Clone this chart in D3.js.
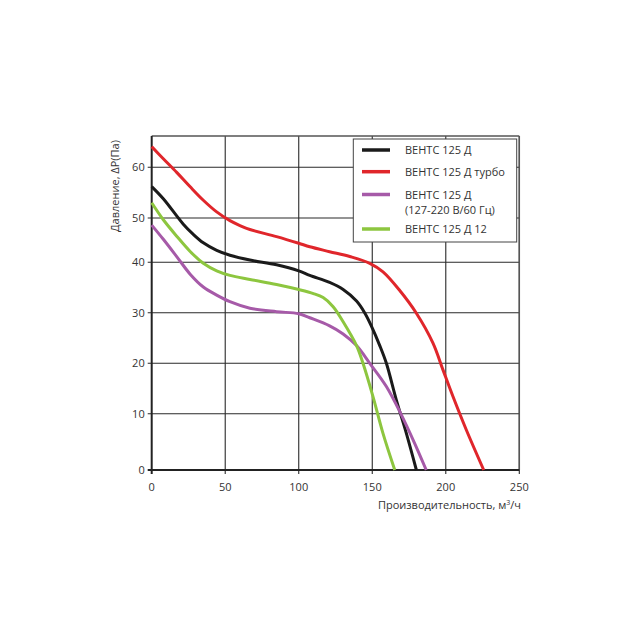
<!DOCTYPE html>
<html>
<head>
<meta charset="utf-8">
<script src="https://cdn.jsdelivr.net/npm/d3@7"></script>
<style>
  body { margin: 0; background: #fff; }
  text { font-family: "Open Sans", "Noto Sans", sans-serif; fill: #333; }
</style>
</head>
<body>
<div class="canvas"></div>
<script>
// flow rate, m3/h -> pressure, Pa
const ventsD = [[0,56.2],[7.9,53.8],[21.5,48.6],[28.3,46.3],[35.1,44.4],[44.2,42.7],[53.2,41.6],[66.8,40.5],[84.9,39.5],[100,38.3],[107.5,37.4],[121,36.0],[130.2,34.6],[139.3,32.3],[145,29.9],[149.5,27.3],[155.1,23.5],[159.6,20],[166.4,12.7],[173.2,6.5],[180,0]]
const ventsTurbo = [[0,64.1],[7.9,61.7],[17,59.0],[26,56.2],[35.1,53.5],[44.2,51.2],[53.2,49.4],[60,48.3],[66.8,47.4],[84.9,45.8],[100,44.3],[107.5,43.5],[121,42.4],[134.7,41.3],[148.3,39.8],[157.3,38.1],[168.7,34.4],[180,29.9],[191.3,24],[198.1,18.7],[204.9,13.4],[214,7.1],[225.8,0]]
const vents60 = [[0,48.4],[7.9,45.2],[17,41.3],[26,37.7],[35.1,35.1],[44.2,33.5],[53.2,32.2],[66.8,30.9],[84.9,30.2],[100,29.8],[107.5,29.0],[121,27.4],[130.2,25.8],[139.3,23.5],[148.3,20],[159.6,15.4],[169.8,9.8],[178.9,4.7],[186.7,0]]
const vents12 = [[0,53.0],[7.9,49.6],[17,45.9],[26,42.5],[35.1,39.8],[44.2,38.3],[53.2,37.4],[66.8,36.6],[84.9,35.6],[100,34.6],[110,33.8],[116.6,33.0],[123.4,31.2],[130.2,28.2],[139.3,23.5],[143.7,20],[150.5,13.4],[157.3,6.5],[165.3,0]]

const xTicks = [0, 50, 100, 150, 200, 250]
const yTicks = [0, 10, 20, 30, 40, 50, 60]

const series = [
  {name: ['ВЕНТС 125 Д'], data: ventsD, color: '#1a1a1a'},
  {name: ['ВЕНТС 125 Д турбо'], data: ventsTurbo, color: '#e0262b'},
  {name: ['ВЕНТС 125 Д', '(127-220 В/60 Гц)'], data: vents60, color: '#a65aa8'},
  {name: ['ВЕНТС 125 Д 12'], data: vents12, color: '#8dc63f'}
]

const svg = d3.select('.canvas')
  .append('svg')
  .attr('width', 640)
  .attr('height', 640)

const x = d3.scaleLinear().domain([0, 250]).range([151.7, 519.3])
// the printed grid is not evenly spaced, so follow it piece by piece
const y = d3.scaleLinear()
  .domain([0, 10, 20, 30, 40, 50, 60, 66.2])
  .range([470, 413.7, 363.3, 312.7, 262.3, 218, 167.3, 136])

const grid = svg.append('g')

grid.selectAll('.vgrid').data(xTicks.slice(1))
  .enter().append('line')
  .attr('x1', d => x(d)).attr('x2', d => x(d))
  .attr('y1', y(66.2)).attr('y2', y(0) + 4)
  .attr('stroke', '#2a2a2a').attr('stroke-width', 1.1)

grid.selectAll('.hgrid').data(yTicks.slice(1))
  .enter().append('line')
  .attr('x1', x(0) - 4).attr('x2', x(250))
  .attr('y1', d => y(d)).attr('y2', d => y(d))
  .attr('stroke', '#2a2a2a').attr('stroke-width', 1.1)

// frame
svg.append('line')
  .attr('x1', x(0)).attr('x2', x(250)).attr('y1', y(66.2)).attr('y2', y(66.2))
  .attr('stroke', '#555').attr('stroke-width', 1.5)
svg.append('line')
  .attr('x1', x(250)).attr('x2', x(250)).attr('y1', y(66.2)).attr('y2', y(0))
  .attr('stroke', '#555').attr('stroke-width', 1.5)
svg.append('line')
  .attr('x1', x(0)).attr('x2', x(0)).attr('y1', y(66.2)).attr('y2', y(0) + 4)
  .attr('stroke', '#222').attr('stroke-width', 2)
svg.append('line')
  .attr('x1', x(0) - 4).attr('x2', x(250)).attr('y1', y(0)).attr('y2', y(0))
  .attr('stroke', '#222').attr('stroke-width', 2)

svg.selectAll('.xlab').data(xTicks)
  .enter().append('text')
  .attr('x', d => x(d)).attr('y', y(0) + 21)
  .attr('text-anchor', 'middle')
  .attr('font-size', 11)
  .text(d => d)

svg.selectAll('.ylab').data(yTicks)
  .enter().append('text')
  .attr('x', x(0) - 7).attr('y', d => y(d) + 4)
  .attr('text-anchor', 'end')
  .attr('font-size', 11)
  .text(d => d)

svg.append('text')
  .attr('x', 521).attr('y', 509)
  .attr('text-anchor', 'end')
  .attr('font-size', 11)
  .html('Производительность, м<tspan dy="-4" font-size="7">3</tspan><tspan dy="4">/ч</tspan>')

svg.append('text')
  .attr('transform', 'translate(119,186) rotate(-90)')
  .attr('text-anchor', 'middle')
  .attr('font-size', 11)
  .text('Давление, ΔP(Па)')

const line = d3.line()
  .x(d => x(d[0]))
  .y(d => y(d[1]))
  .curve(d3.curveCatmullRom.alpha(0.5))

svg.append('g').selectAll('path').data(series)
  .enter().append('path')
  .attr('d', d => line(d.data))
  .attr('fill', 'none')
  .attr('stroke', d => d.color)
  .attr('stroke-width', 3)

// legend
const legend = svg.append('g')
legend.append('rect')
  .attr('x', 353.3).attr('y', 139).attr('width', 163.4).attr('height', 103)
  .attr('fill', '#fff').attr('stroke', '#444').attr('stroke-width', 1)

const rowY = [150, 171.7, 194.5, 229]
const items = legend.selectAll('.item').data(series)
  .enter().append('g')
  .attr('transform', (d, i) => `translate(0,${rowY[i]})`)

items.append('line')
  .attr('x1', 362).attr('x2', 390)
  .attr('stroke', d => d.color).attr('stroke-width', 3.5)

items.selectAll('text').data(d => d.name)
  .enter().append('text')
  .attr('x', 405).attr('y', (d, i) => 4 + i * 15)
  .attr('font-size', 11)
  .text(d => d)
</script>
</body>
</html>
